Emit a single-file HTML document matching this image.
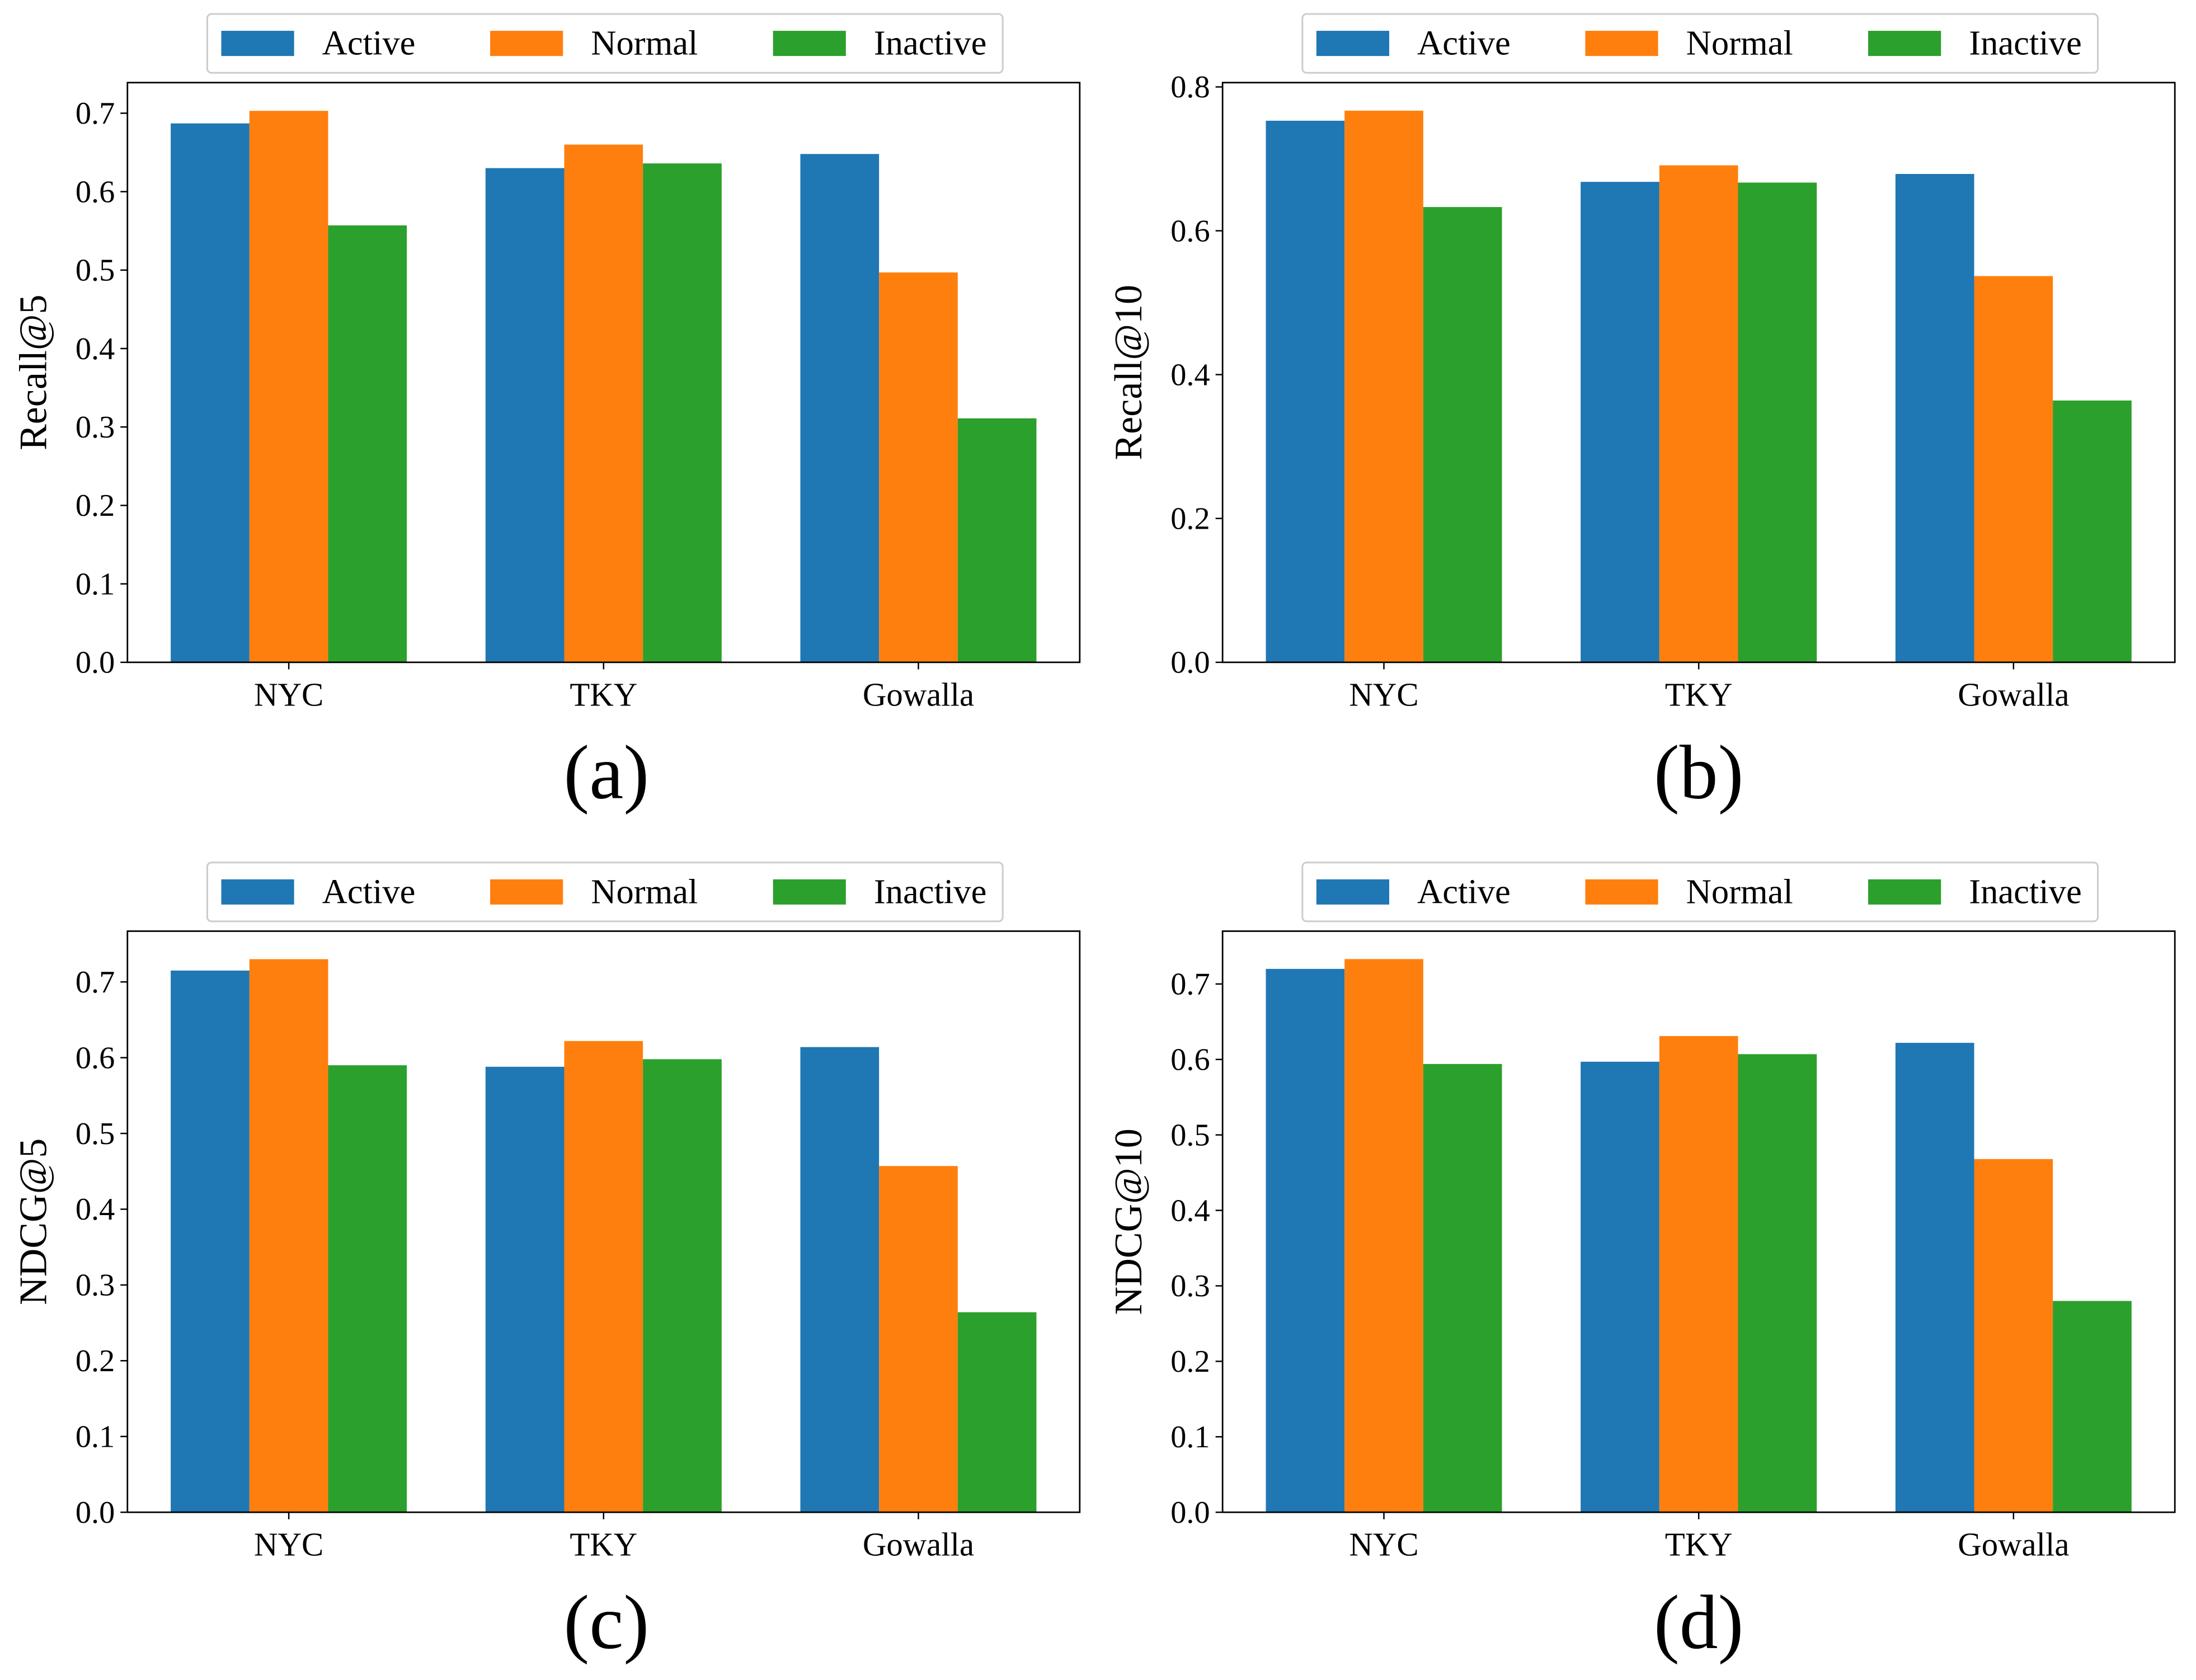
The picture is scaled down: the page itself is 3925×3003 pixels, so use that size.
<!DOCTYPE html>
<html><head><meta charset="utf-8"><style>
html,body{margin:0;padding:0;background:#fff}
svg{display:block}
text{font-family:"Liberation Serif",serif;fill:#000}
</style></head><body>
<svg id="fig" width="3925" height="3003" viewBox="0 0 1568.1 1199.8" preserveAspectRatio="none" xmlns="http://www.w3.org/2000/svg"></svg>
<script>
const categories = ["NYC","TKY","Gowalla"];
const seriesNames = ["Active","Normal","Inactive"];
const recall5Active = [0.687,0.630,0.648];
const recall5Normal = [0.703,0.660,0.497];
const recall5Inactive = [0.557,0.636,0.311];
const recall10Active = [0.753,0.668,0.679];
const recall10Normal = [0.767,0.691,0.537];
const recall10Inactive = [0.633,0.667,0.364];
const ndcg5Active = [0.715,0.588,0.614];
const ndcg5Normal = [0.730,0.622,0.457];
const ndcg5Inactive = [0.590,0.598,0.264];
const ndcg10Active = [0.720,0.597,0.622];
const ndcg10Normal = [0.733,0.631,0.468];
const ndcg10Inactive = [0.594,0.607,0.280];
const ticks7 = [0,0.1,0.2,0.3,0.4,0.5,0.6,0.7];
const ticks8 = [0,0.2,0.4,0.6,0.8];
const tickLabels7 = ["0.0","0.1","0.2","0.3","0.4","0.5","0.6","0.7"];
const tickLabels8 = ["0.0","0.2","0.4","0.6","0.8"];
const colors = ["#1f77b4","#ff7f0e","#2ca02c"];

const NS="http://www.w3.org/2000/svg";
const svg=document.getElementById('fig');
function mk(tag,attrs,parent){const e=document.createElementNS(NS,tag);for(const k in attrs)e.setAttribute(k,attrs[k]);(parent||svg).appendChild(e);return e;}

const panels=[
 {id:"a",x0:91,x1:771,y0:59,y1:473,ymax:0.739,label:"Recall@5",data:[recall5Active,recall5Normal,recall5Inactive],ticks:ticks7,tl:tickLabels7},
 {id:"b",x0:873,x1:1553,y0:59,y1:473,ymax:0.806,label:"Recall@10",data:[recall10Active,recall10Normal,recall10Inactive],ticks:ticks8,tl:tickLabels8},
 {id:"c",x0:91,x1:771,y0:665,y1:1080,ymax:0.767,label:"NDCG@5",data:[ndcg5Active,ndcg5Normal,ndcg5Inactive],ticks:ticks7,tl:tickLabels7},
 {id:"d",x0:873,x1:1553,y0:665,y1:1080,ymax:0.770,label:"NDCG@10",data:[ndcg10Active,ndcg10Normal,ndcg10Inactive],ticks:ticks7,tl:tickLabels7}
];
panels.forEach(p=>{
 const g=mk('g',{});
 
 
 const xs=v=>p.x0+(v+0.5125)/3.025*(p.x1-p.x0);
 const ys=v=>p.y1-v/p.ymax*(p.y1-p.y0);
 p.data.forEach((arr,si)=>{
  arr.forEach((v,ci)=>{
   const left=xs(ci-0.375+si*0.25), right=xs(ci-0.125+si*0.25);
   const r=mk('rect',{x:left,y:ys(v),width:right-left,height:ys(0)-ys(v),fill:colors[si]},g);
   
   
  });
 });
 const fr=mk('rect',{x:p.x0,y:p.y0,width:p.x1-p.x0,height:p.y1-p.y0,fill:'none',stroke:'#000','stroke-width':1.1},g);
 
 
 p.ticks.forEach((t,i)=>{
  const y=ys(t);
  mk('line',{x1:p.x0-5,x2:p.x0,y1:y,y2:y,stroke:'#000','stroke-width':1},g);
  const tx=mk('text',{x:p.x0-9,y:y+7.5,'text-anchor':'end','font-size':22.5},g);
  tx.textContent=p.tl[i];
  
  
 });
 categories.forEach((c,i)=>{
  const x=xs(i);
  mk('line',{x1:x,x2:x,y1:p.y1,y2:p.y1+5,stroke:'#000','stroke-width':1},g);
  const tx=mk('text',{x:x,y:p.y1+31,'text-anchor':'middle','font-size':23.5},g);
  tx.textContent=c;
  
  
 });
 const cy=(p.y0+p.y1)/2, lx=p.x0-58;
 const yl=mk('text',{x:lx,y:cy,'text-anchor':'middle','font-size':28,transform:`rotate(-90 ${lx} ${cy})`},g);
 yl.textContent=p.label;
 
 
 const cap=mk('text',{x:(p.x0+p.x1)/2-(p.id==='a'||p.id==='c'?-2:0),y:p.y1+97,'text-anchor':'middle','font-size':55},g);
 cap.textContent='('+p.id+')';
 
 
 const lg=mk('g',{},g);
 
 
 const off=p.x0-91, ly=p.y0-49;
 mk('rect',{x:148+off,y:ly,width:568,height:42,rx:3,fill:'#fff',stroke:'#ccc','stroke-width':1.2},lg);
 const px=[158,350,552];
 seriesNames.forEach((n,si)=>{
  const e=mk('g',{},lg);
  
  
  mk('rect',{x:px[si]+off,y:ly+12,width:52,height:18,fill:colors[si]},e);
  const t=mk('text',{x:px[si]+off+72,y:ly+29,'font-size':25},e);
  t.textContent=n;
 });
});
</script>
</body></html>
